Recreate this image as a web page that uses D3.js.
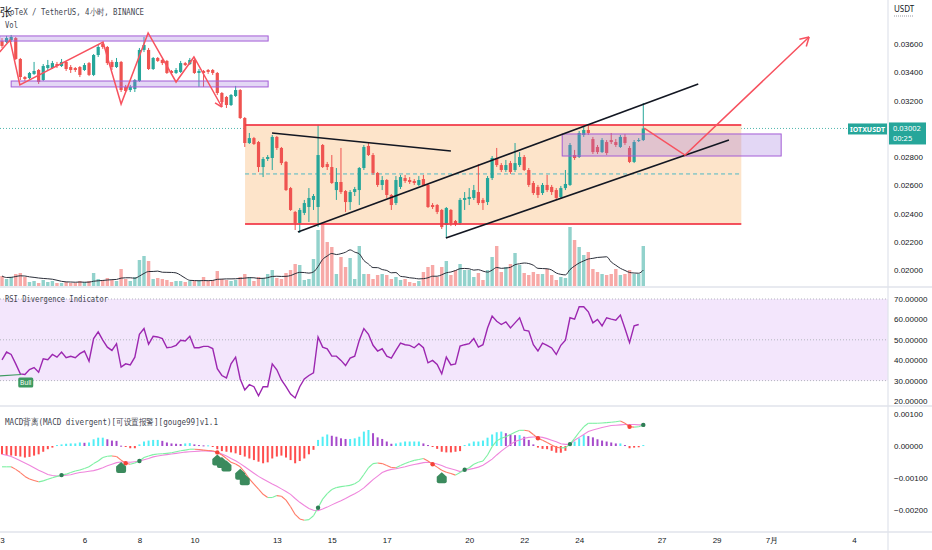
<!DOCTYPE html>
<html>
<head>
<meta charset="utf-8">
<script src="https://cdn.jsdelivr.net/npm/d3@7"></script>
<style>
body { margin: 0; background: #fff; }
svg { display: block; font-family: "Noto Sans", "Liberation Sans", sans-serif; }
.axis text { fill: #131722; font-size: 8px; }
.axis path { display: none; }
</style>
</head>
<body>
<div id="chart"></div>
<script>
// IOTX/USDT 4h candles, starting 3 June 00:00
const startDay = '2022-06-03 00:00'
const endDay = '2022-07-04 00:00'

// [open, high, low, close]
const ohlc = [
  [0.03621,0.03642,0.03572,0.03586],[0.03614,0.03657,0.03607,0.03642],[0.03628,0.03664,0.03614,0.0365],[0.03642,0.0365,0.03487,0.03494],
  [0.03494,0.03501,0.03345,0.03366],[0.03366,0.03373,0.03338,0.03352],[0.03359,0.03402,0.03352,0.03395],[0.03388,0.03473,0.03381,0.03409],
  [0.03416,0.03423,0.03317,0.03331],[0.03345,0.03458,0.03338,0.03444],[0.0343,0.03487,0.03416,0.03451],[0.0343,0.0348,0.03423,0.03465],
  [0.03458,0.03473,0.0343,0.03444],[0.03444,0.03494,0.03437,0.03473],[0.03473,0.0348,0.03409,0.03423],[0.03437,0.03451,0.03395,0.03416],
  [0.0343,0.03437,0.03402,0.03416],[0.03437,0.03444,0.03366,0.03381],[0.03416,0.03465,0.03409,0.03451],[0.03465,0.03473,0.03373,0.03381],
  [0.03381,0.03529,0.03373,0.03522],[0.03522,0.03593,0.03508,0.03579],[0.036,0.03614,0.03565,0.03579],[0.03579,0.03586,0.03451,0.03465],
  [0.03473,0.03487,0.03416,0.03437],[0.03437,0.03501,0.0343,0.03473],[0.03473,0.0348,0.0326,0.03274],[0.03296,0.0331,0.0326,0.03267],
  [0.03274,0.0331,0.0326,0.03296],[0.03281,0.03352,0.0326,0.03345],[0.03338,0.03572,0.03331,0.03558],[0.03558,0.0365,0.03543,0.03593],
  [0.03558,0.03572,0.03416,0.03423],[0.03423,0.03508,0.03416,0.03501],[0.03501,0.03508,0.03473,0.0348],[0.03487,0.03494,0.03451,0.03465],
  [0.0348,0.03487,0.03388,0.03395],[0.03409,0.03416,0.03381,0.03395],[0.03395,0.0343,0.03388,0.03416],[0.03402,0.0348,0.03395,0.03465],
  [0.03465,0.03473,0.03444,0.03451],[0.03458,0.03501,0.03451,0.03487],[0.03487,0.03494,0.03388,0.03395],[0.03395,0.03423,0.03296,0.03409],
  [0.03409,0.03416,0.03296,0.03395],[0.03416,0.03423,0.03388,0.03402],[0.03416,0.03423,0.03381,0.03395],[0.03395,0.03402,0.03239,0.03253],
  [0.03253,0.0326,0.03175,0.03189],[0.03225,0.03232,0.03147,0.03168],[0.03168,0.03246,0.03161,0.03239],[0.03232,0.03303,0.03225,0.03274],
  [0.03274,0.03281,0.03069,0.03076],[0.03076,0.03083,0.02871,0.02899],[0.02899,0.0297,0.02892,0.02934],[0.02934,0.02942,0.02885,0.02892],
  [0.02906,0.02913,0.02694,0.02729],[0.02729,0.028,0.02658,0.02786],[0.02786,0.02814,0.02772,0.028],[0.02793,0.02956,0.02708,0.02942],
  [0.02942,0.02949,0.0285,0.02864],[0.02864,0.02871,0.02743,0.02757],[0.02765,0.02772,0.02559,0.02566],[0.0258,0.02588,0.02418,0.02425],
  [0.02411,0.02418,0.02283,0.02333],[0.02333,0.02439,0.02262,0.02425],[0.02404,0.02496,0.02389,0.02474],[0.02446,0.0258,0.0234,0.0251],
  [0.02496,0.02538,0.02425,0.02524],[0.02446,0.03027,0.02304,0.02814],[0.02885,0.02892,0.02722,0.02729],[0.0275,0.02765,0.02708,0.02729],
  [0.02729,0.02814,0.02609,0.02616],[0.02566,0.02722,0.02496,0.02623],[0.02623,0.02864,0.02538,0.02552],[0.02559,0.02566,0.02411,0.02481],
  [0.02481,0.02566,0.02425,0.02552],[0.02552,0.02588,0.02524,0.02573],[0.02566,0.02729,0.0246,0.02722],[0.02722,0.02885,0.02708,0.02871],
  [0.02878,0.02899,0.02807,0.02814],[0.02814,0.02828,0.02673,0.02687],[0.02687,0.02694,0.02588,0.02602],[0.02602,0.02665,0.02566,0.02637],
  [0.02637,0.02644,0.0251,0.02531],[0.02531,0.02538,0.02425,0.0246],[0.02474,0.02665,0.0246,0.02637],[0.02588,0.02673,0.02573,0.02658],
  [0.02651,0.02673,0.02616,0.0263],[0.02637,0.02658,0.02609,0.02623],[0.0263,0.02644,0.02602,0.02616],[0.02602,0.02665,0.02595,0.02637],
  [0.02644,0.02673,0.02595,0.02602],[0.02602,0.02609,0.02439,0.02446],[0.0246,0.02474,0.02432,0.02446],[0.0246,0.02467,0.02396,0.02411],
  [0.02425,0.02432,0.0229,0.02304],[0.02319,0.02446,0.02226,0.02439],[0.02425,0.02432,0.02311,0.02333],[0.02347,0.02354,0.02311,0.02326],
  [0.02333,0.0251,0.02319,0.02496],[0.02496,0.02552,0.02425,0.0251],[0.02503,0.0258,0.0246,0.02517],[0.0251,0.02602,0.02496,0.02566],
  [0.02552,0.0275,0.0246,0.02474],[0.02496,0.0251,0.02425,0.02474],[0.02481,0.02665,0.0246,0.02651],[0.02651,0.02807,0.02637,0.02793],
  [0.02793,0.02864,0.02729,0.02743],[0.02743,0.02757,0.02694,0.02708],[0.02708,0.02779,0.02694,0.02743],[0.02757,0.02772,0.0268,0.02694],
  [0.02708,0.02899,0.02694,0.02757],[0.02743,0.02835,0.02729,0.028],[0.028,0.02814,0.02701,0.02708],[0.02708,0.02722,0.02588,0.02602],
  [0.02616,0.0263,0.02531,0.02545],[0.02588,0.02602,0.0251,0.02531],[0.02545,0.02616,0.02531,0.02602],[0.02602,0.02673,0.02552,0.02566],
  [0.02588,0.02602,0.02531,0.02552],[0.02566,0.0258,0.02496,0.0251],[0.02517,0.02595,0.02503,0.0258],[0.0258,0.02708,0.02566,0.02609],
  [0.02602,0.02899,0.02595,0.02885],[0.02814,0.0285,0.02779,0.02793],[0.028,0.02984,0.02793,0.0297],[0.02956,0.03019,0.02942,0.02991],
  [0.02991,0.03027,0.02956,0.0297],[0.02927,0.02942,0.02821,0.02835],[0.02871,0.02885,0.02821,0.02835],[0.02835,0.02934,0.02828,0.0292],
  [0.02906,0.0292,0.02814,0.02828],[0.0292,0.0297,0.02892,0.02906],[0.02906,0.02927,0.02871,0.02885],[0.02871,0.02956,0.02864,0.02942],
  [0.02942,0.02963,0.02885,0.02899],[0.02864,0.02878,0.02757,0.02765],[0.02765,0.0292,0.02757,0.02906],[0.02913,0.02934,0.02906,0.0292],
  [0.0292,0.03182,0.02913,0.03002]
]

// volume, millions
const volume = [
  11,8,10,13,14,10,5,6,4,7, 5,6,4,4,5,4,4,6,5,6, 14,8,7,9,7,6,18,8,6,10, 27,31,26,8,9,8,7,5,6,6,
  5,6,6,7,10,6,7,16,8,7, 6,7,10,13,10,6,10,9,13,17, 9,8,14,17,23,22,7,8,28,57, 72,45,40,13,30,20,29,8,41,13,
  13,8,12,13,12,8,10,7,8,5, 4,6,15,20,22,10,20,26,12,17, 23,17,17,10,14,7,17,30,41,15, 20,23,34,22,14,12,15,13,13,18,
  12,7,10,9,60,47,40,32,35,18, 15,13,12,13,18,12,13,17,13,13, 41
]
const volumeMaLength = 9

const rsi = [
  40.2,44,42.8,38.2,33.3,33,35.4,36.4,34.1,40.7, 40.2,42.8,41.5,44,41.2,41.9,41.2,43.2,44.5,39.5,
  50.6,53.9,49.8,46.4,44.8,48.1,36.6,38.2,37.7,41.5, 52.7,55.5,47.8,51.7,51.4,50.6,46.1,46.4,47.3,49.8,
  49.4,51.7,46.1,46.1,46.8,46.8,45.7,35.8,32.5,31.3, 38.2,41.5,30.8,25.4,28,27,22.6,27,27,38.2,
  35.3,30.3,27,23.4,21.5,27,30.8,32.5,33.8,51.4, 46.4,45.6,42,42,39.9,37.4,41,42,49.8,55.5,
  52.7,47.3,44.5,45.6,42,41,44.8,48.4,47.6,47.3, 46.1,48.1,46.1,38.7,39.9,37.9,33.3,41.5,37.7,38.2,
  46.9,47.6,48.1,50.6,46.4,47.6,55.8,61.6,59.1,57.5, 58.8,55.8,58.3,60.8,54.7,54.3,47.6,44.5,48.4,47.3,
  46,42.8,47.3,49.8,60.8,60.1,66.2,66.2,63.7,58.3, 60,56.8,60.8,60.1,59.6,62.1,55.5,48.6,56.8,57.5
]
const bullLine = [[-0.6, 32.3], [4.2, 33.0]]

const macdLine = [
  -65e-5,-65e-5,-65e-5,-73e-5,-83e-5,-95e-5,-103e-5,-108e-5,-112e-5,-109e-5,
  -104e-5,-99e-5,-95e-5,-91e-5,-88e-5,-83e-5,-78e-5,-75e-5,-70e-5,-65e-5,
  -55e-5,-47e-5,-36e-5,-32e-5,-31e-5,-33e-5,-44e-5,-54e-5,-57e-5,-53e-5,
  -47e-5,-36e-5,-31e-5,-27e-5,-25e-5,-24e-5,-23e-5,-21e-5,-18e-5,-15e-5,
  -13e-5,-10e-5,-10e-5,-11e-5,-13e-5,-14e-5,-15e-5,-20e-5,-28e-5,-39e-5,
  -51e-5,-56e-5,-65e-5,-82e-5,-103e-5,-119e-5,-135e-5,-151e-5,-161e-5,-161e-5,
  -155e-5,-157e-5,-169e-5,-190e-5,-214e-5,-228e-5,-232e-5,-230e-5,-218e-5,-193e-5,
  -166e-5,-149e-5,-136e-5,-130e-5,-127e-5,-125e-5,-123e-5,-118e-5,-109e-5,-89e-5,
  -68e-5,-55e-5,-53e-5,-55e-5,-61e-5,-67e-5,-68e-5,-61e-5,-55e-5,-49e-5,
  -45e-5,-42e-5,-39e-5,-47e-5,-57e-5,-66e-5,-76e-5,-82e-5,-86e-5,-91e-5,
  -83e-5,-74e-5,-68e-5,-57e-5,-51e-5,-47e-5,-28e-5,-2e-5,16e-5,24e-5,
  29e-5,36e-5,43e-5,49e-5,49e-5,47e-5,36e-5,24e-5,18e-5,11e-5,
  3e-5,-4e-5,-6e-5,-5e-5,6e-5,24e-5,43e-5,60e-5,71e-5,71e-5,
  71e-5,72e-5,73e-5,74e-5,76e-5,78e-5,71e-5,60e-5,59e-5,60e-5,
  66e-5
]
const signalLine = [
  -26e-5,-29e-5,-33e-5,-39e-5,-46e-5,-53e-5,-60e-5,-68e-5,-76e-5,-82e-5,
  -89e-5,-92e-5,-94e-5,-93e-5,-91e-5,-90e-5,-86e-5,-83e-5,-81e-5,-79e-5,
  -77e-5,-73e-5,-68e-5,-62e-5,-57e-5,-52e-5,-50e-5,-50e-5,-51e-5,-49e-5,
  -47e-5,-43e-5,-39e-5,-34e-5,-31e-5,-29e-5,-27e-5,-25e-5,-23e-5,-21e-5,
  -19e-5,-18e-5,-17e-5,-16e-5,-15e-5,-16e-5,-17e-5,-19e-5,-25e-5,-31e-5,
  -39e-5,-46e-5,-55e-5,-65e-5,-75e-5,-85e-5,-95e-5,-103e-5,-111e-5,-119e-5,
  -126e-5,-134e-5,-142e-5,-151e-5,-164e-5,-176e-5,-186e-5,-195e-5,-201e-5,-202e-5,
  -197e-5,-191e-5,-184e-5,-177e-5,-171e-5,-164e-5,-156e-5,-149e-5,-141e-5,-131e-5,
  -118e-5,-105e-5,-94e-5,-83e-5,-77e-5,-73e-5,-71e-5,-68e-5,-65e-5,-61e-5,
  -58e-5,-55e-5,-52e-5,-51e-5,-53e-5,-56e-5,-61e-5,-67e-5,-71e-5,-75e-5,
  -80e-5,-76e-5,-73e-5,-70e-5,-66e-5,-60e-5,-51e-5,-41e-5,-28e-5,-16e-5,
  -5e-5,5e-5,14e-5,19e-5,24e-5,27e-5,28e-5,29e-5,27e-5,23e-5,
  18e-5,13e-5,7e-5,5e-5,5e-5,18e-5,27e-5,36e-5,45e-5,50e-5,
  54e-5,58e-5,61e-5,64e-5,65e-5,66e-5,67e-5,67e-5,67e-5,66e-5,
  66e-5
]
const histogram = [
  -26e-5,-28e-5,-30e-5,-31e-5,-33e-5,-36e-5,-34e-5,-30e-5,-26e-5,-18e-5,
  -10e-5,-5e-5,3e-5,5e-5,7e-5,8e-5,8e-5,11e-5,10e-5,11e-5,
  21e-5,26e-5,26e-5,21e-5,17e-5,16e-5,1e-5,-2e-5,-7e-5,-7e-5,
  5e-5,14e-5,17e-5,19e-5,19e-5,16e-5,11e-5,8e-5,7e-5,6e-5,
  8e-5,9e-5,5e-5,3e-5,2e-5,2e-5,-1e-5,-10e-5,-16e-5,-18e-5,
  -20e-5,-23e-5,-28e-5,-33e-5,-39e-5,-44e-5,-49e-5,-54e-5,-51e-5,-39e-5,
  -33e-5,-30e-5,-36e-5,-44e-5,-54e-5,-47e-5,-39e-5,-26e-5,-12e-5,19e-5,
  29e-5,36e-5,32e-5,29e-5,24e-5,22e-5,22e-5,24e-5,29e-5,45e-5,
  50e-5,40e-5,27e-5,22e-5,14e-5,7e-5,8e-5,11e-5,14e-5,14e-5,
  14e-5,14e-5,8e-5,3e-5,-2e-5,-9e-5,-18e-5,-20e-5,-20e-5,-18e-5,
  -16e-5,3e-5,8e-5,14e-5,14e-5,17e-5,26e-5,36e-5,43e-5,45e-5,
  40e-5,36e-5,34e-5,34e-5,29e-5,19e-5,5e-5,-5e-5,-9e-5,-10e-5,
  -15e-5,-21e-5,-21e-5,-15e-5,11e-5,14e-5,24e-5,34e-5,31e-5,27e-5,
  21e-5,17e-5,14e-5,11e-5,8e-5,8e-5,3e-5,-7e-5,-5e-5,-4e-5,
  3e-5
]
// candles where the divergence script printed its signal
const divergenceMarks = [26, 47, 48, 49, 52, 53, 96]

const dayTicks = ['2022-06-03','2022-06-06','2022-06-08','2022-06-10','2022-06-13','2022-06-15','2022-06-17',
  '2022-06-20','2022-06-22','2022-06-24','2022-06-27','2022-06-29','2022-07-01','2022-07-04']
const priceTicks = [0.036, 0.034, 0.032, 0.028, 0.026, 0.024, 0.022, 0.020]
const rsiTicks = [70, 60, 50, 40, 30, 20]
const macdTicks = [0.001, 0, -0.001, -0.002]
const lastPrice = 0.03002
const countdown = '00:25'

// user drawings, anchors as [candle index, price]
const upperZone = [[-0.5, 0.03657], [58.1, 0.03621]]
const lowerZone = [[2.0, 0.03338], [58.1, 0.03296]]
const zigzag = [[-0.5, 0.03543], [1.75, 0.03628], [3.9, 0.0331], [22.05, 0.03614], [26.0, 0.03175],
  [31.9, 0.03678], [38.0, 0.03331], [41.9, 0.03508], [48.0, 0.03154]]
const rangeBox = [[53.06, 0.03027], [161.4, 0.02326]]
const rangeMid = 0.0268
const trendLines = [
  [[58.95, 0.0297], [98.0, 0.02842]],
  [[64.6, 0.02269], [152.0, 0.03317]],
  [[96.9, 0.02226], [158.7, 0.0292]]
]
const retestZone = [[122.3, 0.02963], [170.1, 0.02807]]
const projection = [[140.2, 0.03005], [149.1, 0.02814], [176.2, 0.0365]]

const W = 932, H = 550
const plotRight = 888
const up = '#26a69a', down = '#ef5350'

const parseT = d3.timeParse('%Y-%m-%d %H:%M')
const parseD = d3.timeParse('%Y-%m-%d')
const t0 = parseT(startDay)
const step = 4 * 3600e3

let x = d3.scaleTime().domain([t0, parseT(endDay)]).range([2, 854])
let xi = i => x(new Date(t0.getTime() + i * step))
let yP = d3.scaleLinear().domain([0.036, 0.020]).range([44, 270])
let yV = d3.scaleLinear().domain([0, 72]).range([287, 215])
let yR = d3.scaleLinear().domain([70, 20]).range([299, 401])
let yM = d3.scaleLinear().domain([0.001, -0.002]).range([414, 510])

let svg = d3.select('#chart').append('svg')
    .attr('width', W)
    .attr('height', H)

let defs = svg.append('defs')
let clips = [['clipPrice', 0, 286], ['clipRsi', 288, 405], ['clipMacd', 407, 531]]
clips.forEach(c => {
    defs.append('clipPath').attr('id', c[0]).append('rect')
        .attr('x', 0).attr('y', c[1]).attr('width', plotRight).attr('height', c[2] - c[1])
})

// ---------- price pane ----------
let gP = svg.append('g').attr('clip-path', 'url(#clipPrice)')

gP.append('line')
    .attr('x1', 0).attr('x2', plotRight)
    .attr('y1', yP(lastPrice)).attr('y2', yP(lastPrice))
    .attr('stroke', up).attr('stroke-dasharray', '1,2').attr('opacity', 0.8)

gP.selectAll('rect.vol').data(volume).join('rect')
    .attr('class', 'vol')
    .attr('x', (d, i) => xi(i) - 1.7)
    .attr('width', 3.4)
    .attr('y', d => yV(d))
    .attr('height', d => yV(0) - yV(d))
    .attr('fill', (d, i) => ohlc[i][3] >= ohlc[i][0] ? up : down)
    .attr('opacity', 0.5)

let volMa = volume.map((d, i) => {
    let w = volume.slice(Math.max(0, i - volumeMaLength + 1), i + 1)
    return d3.mean(w)
})
gP.append('path')
    .attr('d', d3.line().x((d, i) => xi(i)).y(d => yV(d)).curve(d3.curveMonotoneX)(volMa))
    .attr('fill', 'none').attr('stroke', '#2a2e39').attr('stroke-width', 1)

// range box
gP.append('rect')
    .attr('x', xi(rangeBox[0][0])).attr('y', yP(rangeBox[0][1]))
    .attr('width', xi(rangeBox[1][0]) - xi(rangeBox[0][0]))
    .attr('height', yP(rangeBox[1][1]) - yP(rangeBox[0][1]))
    .attr('fill', '#fde4ca')
gP.append('line')
    .attr('x1', xi(rangeBox[0][0])).attr('x2', xi(rangeBox[1][0]))
    .attr('y1', yP(rangeMid)).attr('y2', yP(rangeMid))
    .attr('stroke', '#4fb8c4').attr('stroke-width', 1).attr('stroke-dasharray', '4,3')

// candles
let candle = gP.selectAll('g.candle').data(ohlc).join('g').attr('class', 'candle')
candle.append('line')
    .attr('x1', (d, i) => xi(i)).attr('x2', (d, i) => xi(i))
    .attr('y1', d => yP(d[1])).attr('y2', d => yP(d[2]))
    .attr('stroke', d => d[3] >= d[0] ? up : down).attr('stroke-width', 1)
candle.append('rect')
    .attr('x', (d, i) => xi(i) - 1.6)
    .attr('width', 3.2)
    .attr('y', d => yP(Math.max(d[0], d[3])))
    .attr('height', d => Math.max(1, Math.abs(yP(d[0]) - yP(d[3]))))
    .attr('fill', d => d[3] >= d[0] ? up : down)

// translucent zones
;[upperZone, lowerZone, retestZone].forEach(z => {
    gP.append('rect')
        .attr('x', xi(z[0][0])).attr('y', yP(z[0][1]))
        .attr('width', xi(z[1][0]) - xi(z[0][0]))
        .attr('height', yP(z[1][1]) - yP(z[0][1]))
        .attr('fill', 'rgba(155,110,220,0.28)')
        .attr('stroke', '#a35cd6').attr('stroke-width', 1)
})

// range box borders
;[rangeBox[0][1], rangeBox[1][1]].forEach(p => {
    gP.append('line')
        .attr('x1', xi(rangeBox[0][0])).attr('x2', xi(rangeBox[1][0]))
        .attr('y1', yP(p)).attr('y2', yP(p))
        .attr('stroke', '#f23645').attr('stroke-width', 2).attr('opacity', 0.85)
})

trendLines.forEach(l => {
    gP.append('line')
        .attr('x1', xi(l[0][0])).attr('y1', yP(l[0][1]))
        .attr('x2', xi(l[1][0])).attr('y2', yP(l[1][1]))
        .attr('stroke', '#131722').attr('stroke-width', 1.6)
})

let pathLine = d3.line().x(d => xi(d[0])).y(d => yP(d[1]))
function arrowHead(g, pts, len) {
    let a = pts[pts.length - 2], b = pts[pts.length - 1]
    let bx = xi(b[0]), by = yP(b[1])
    let ang = Math.atan2(by - yP(a[1]), bx - xi(a[0]))
    let spread = Math.PI / 6
    ;[ang + Math.PI - spread, ang + Math.PI + spread].forEach(t => {
        g.append('line')
            .attr('x1', bx).attr('y1', by)
            .attr('x2', bx + len * Math.cos(t)).attr('y2', by + len * Math.sin(t))
            .attr('stroke', '#f7525f').attr('stroke-width', 1.5)
    })
}
gP.append('path').attr('d', pathLine(zigzag))
    .attr('fill', 'none').attr('stroke', '#f7525f').attr('stroke-width', 1.5)
arrowHead(gP, zigzag, 8)
gP.append('path').attr('d', pathLine(projection))
    .attr('fill', 'none').attr('stroke', '#f7525f').attr('stroke-width', 1.5)
arrowHead(gP, projection, 10)

// legend
svg.append('text').attr('x', 0).attr('y', 16).text('张')
    .attr('font-size', 12).attr('fill', '#131722')
svg.append('text').attr('x', 10).attr('y', 15).text('oTeX / TetherUS, 4小时, BINANCE')
    .attr('font-family', 'DejaVu Sans Mono').attr('font-size', 9).attr('fill', '#434651')
    .attr('textLength', 134).attr('lengthAdjust', 'spacingAndGlyphs')
svg.append('text').attr('x', 5).attr('y', 28).text('Vol')
    .attr('font-family', 'DejaVu Sans Mono').attr('font-size', 9).attr('fill', '#434651')
    .attr('textLength', 13).attr('lengthAdjust', 'spacingAndGlyphs')

// ---------- RSI pane ----------
let gR = svg.append('g').attr('clip-path', 'url(#clipRsi)')
gR.append('rect')
    .attr('x', 0).attr('width', plotRight)
    .attr('y', yR(70)).attr('height', yR(30) - yR(70))
    .attr('fill', '#f3e6fc')
;[70, 50, 30].forEach(v => {
    gR.append('line')
        .attr('x1', 0).attr('x2', plotRight).attr('y1', yR(v)).attr('y2', yR(v))
        .attr('stroke', '#b2b5be').attr('stroke-dasharray', '1,2')
})
gR.append('path')
    .attr('d', d3.line().x((d, i) => xi(i)).y(d => yR(d))(rsi))
    .attr('fill', 'none').attr('stroke', '#9c27b0').attr('stroke-width', 1.4)
gR.append('line')
    .attr('x1', xi(bullLine[0][0])).attr('y1', yR(bullLine[0][1]))
    .attr('x2', xi(bullLine[1][0])).attr('y2', yR(bullLine[1][1]))
    .attr('stroke', '#3d9a60').attr('stroke-width', 1.2)
gR.append('rect')
    .attr('x', xi(bullLine[1][0]) - 3).attr('y', yR(bullLine[1][1]) + 3)
    .attr('width', 15).attr('height', 10).attr('rx', 1.5)
    .attr('fill', '#3d9a60')
gR.append('text')
    .attr('x', xi(bullLine[1][0]) + 4.5).attr('y', yR(bullLine[1][1]) + 10.7)
    .attr('text-anchor', 'middle').attr('font-size', 6.5).attr('fill', '#fff').text('Bull')
svg.append('text').attr('x', 5).attr('y', 302).text('RSI Divergence Indicator')
    .attr('font-family', 'DejaVu Sans Mono').attr('font-size', 9).attr('fill', '#434651')
    .attr('textLength', 103).attr('lengthAdjust', 'spacingAndGlyphs')

// ---------- MACD pane ----------
let gM = svg.append('g').attr('clip-path', 'url(#clipMacd)')
let histColor = (d, i) => {
    if (d < 0) return '#ff4d4d'
    return (i > 0 && d < histogram[i - 1]) ? '#a64bcb' : '#52eef5'
}
gM.selectAll('rect.hist').data(histogram).join('rect')
    .attr('class', 'hist')
    .attr('x', (d, i) => xi(i) - 1)
    .attr('width', 2)
    .attr('y', d => yM(Math.max(0, d)))
    .attr('height', d => Math.max(1, Math.abs(yM(d) - yM(0))))
    .attr('fill', histColor)

gM.append('path')
    .attr('d', d3.line().x((d, i) => xi(i)).y(d => yM(d))(signalLine))
    .attr('fill', 'none').attr('stroke', '#ef86dc').attr('stroke-width', 1.1)

let segs = d3.range(1, macdLine.length).map(i => ({ i: i, a: macdLine[i - 1], b: macdLine[i] }))
gM.selectAll('line.macd').data(segs).join('line')
    .attr('class', 'macd')
    .attr('x1', d => xi(d.i - 1)).attr('y1', d => yM(d.a))
    .attr('x2', d => xi(d.i)).attr('y2', d => yM(d.b))
    .attr('stroke', d => d.b >= d.a ? '#7df0a2' : '#ff7a66')
    .attr('stroke-width', 1.1)

let crosses = d3.range(1, macdLine.length).filter(i =>
    (macdLine[i] >= signalLine[i]) !== (macdLine[i - 1] >= signalLine[i - 1]))
gM.selectAll('circle.cross').data(crosses).join('circle')
    .attr('class', 'cross')
    .attr('cx', i => xi(i)).attr('cy', i => yM(macdLine[i]))
    .attr('r', 2.2)
    .attr('fill', i => macdLine[i] >= signalLine[i] ? '#2e7d55' : '#f44336')

gM.selectAll('path.div').data(divergenceMarks).join('path')
    .attr('class', 'div')
    .attr('transform', i => 'translate(' + xi(i) + ',' + (yM(macdLine[i]) + 8) + ')')
    .attr('d', 'M0,-6 L5,-1.5 L5,3 Q5,5 3,5 L-3,5 Q-5,5 -5,3 L-5,-1.5 Z')
    .attr('fill', '#3b8a5d')

svg.append('text').attr('x', 5).attr('y', 425).text('MACD背离(MACD divergent)[可设置报警][gouge99]v1.1')
    .attr('font-family', 'DejaVu Sans Mono').attr('font-size', 9).attr('fill', '#434651')
    .attr('textLength', 213).attr('lengthAdjust', 'spacingAndGlyphs')

// ---------- frame and axes ----------
;[287, 406, 532].forEach(y => {
    svg.append('line').attr('x1', 0).attr('x2', W).attr('y1', y).attr('y2', y)
        .attr('stroke', '#e0e3eb').attr('stroke-width', 1.5)
})
svg.append('line').attr('x1', plotRight).attr('x2', plotRight).attr('y1', 0).attr('y2', H)
    .attr('stroke', '#e0e3eb').attr('stroke-width', 1.2)

let fmt5 = d3.format('.5f')
svg.append('g').attr('class', 'axis').attr('transform', 'translate(' + plotRight + ',0)')
    .call(d3.axisRight(yP).tickValues(priceTicks).tickFormat(fmt5).tickSize(0).tickPadding(6))
svg.append('g').attr('class', 'axis').attr('transform', 'translate(' + plotRight + ',0)')
    .call(d3.axisRight(yR).tickValues(rsiTicks).tickFormat(fmt5).tickSize(0).tickPadding(6))
svg.append('g').attr('class', 'axis').attr('transform', 'translate(' + plotRight + ',0)')
    .call(d3.axisRight(yM).tickValues(macdTicks).tickFormat(fmt5).tickSize(0).tickPadding(6))
svg.append('g').attr('class', 'axis').attr('transform', 'translate(0,533)')
    .call(d3.axisBottom(x).tickValues(dayTicks.map(parseD)).tickSize(0).tickPadding(4)
        .tickFormat(d => d.getDate() === 1 ? (d.getMonth() + 1) + '月' : d.getDate()))

svg.append('text').attr('x', 894).attr('y', 12).text('USDT').attr('font-size', 8).attr('fill', '#131722')
svg.append('line').attr('x1', 894).attr('x2', 913).attr('y1', 16).attr('y2', 16)
    .attr('stroke', '#9598a1').attr('stroke-dasharray', '1,1')

// last price labels
let yl = yP(lastPrice)
svg.append('rect').attr('x', 889).attr('y', yl - 6).attr('width', 37).attr('height', 22).attr('fill', up)
svg.append('text').attr('x', 893).attr('y', yl + 2.5).text(fmt5(lastPrice))
    .attr('font-size', 7.5).attr('fill', '#fff')
svg.append('text').attr('x', 893).attr('y', yl + 12.5).text(countdown)
    .attr('font-size', 7.5).attr('fill', '#fff')
svg.append('rect').attr('x', 848).attr('y', yl - 5).attr('width', 39).attr('height', 11).attr('fill', up)
svg.append('text').attr('x', 850).attr('y', yl + 3.5).text('IOTXUSDT')
    .attr('font-size', 7).attr('font-weight', 'bold').attr('fill', '#fff')
    .attr('textLength', 35).attr('lengthAdjust', 'spacingAndGlyphs')
</script>
</body>
</html>
